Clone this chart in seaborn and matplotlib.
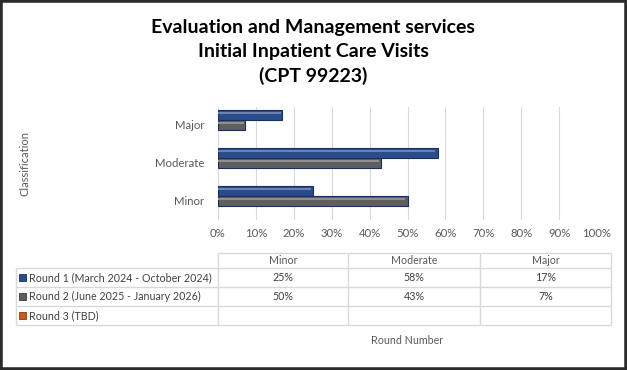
import numpy as np
import pandas as pd
import matplotlib
matplotlib.use("Agg")
import matplotlib.pyplot as plt
from matplotlib.patches import Rectangle
from matplotlib.ticker import PercentFormatter
import seaborn as sns

# ---- data ----
categories = ["Minor", "Moderate", "Major"]
rounds = ["Round 1 (March 2024 - October 2024)",
          "Round 2 (June 2025 - January 2026)",
          "Round 3 (TBD)"]
round1 = [25, 58, 17]
round2 = [50, 43, 7]
round3 = [np.nan, np.nan, np.nan]
x_ticks = [0, 10, 20, 30, 40, 50, 60, 70, 80, 90, 100]
title_lines = ["Evaluation and Management services",
               "Initial Inpatient Care Visits",
               "(CPT 99223)"]

colors = ["#2B4C8C", "#5F5F5F", "#C65A1E"]
edge_colors = ["#1A2F5C", "#3A3A3A", "#8A3C10"]

rows = []
for r, vals in zip(rounds, [round1, round2, round3]):
    for c, v in zip(categories, vals):
        rows.append({"Round": r, "Classification": c, "value": v})
df = pd.DataFrame(rows)

sns.set_theme(style="white")
plt.rcParams["font.family"] = ["Lato", "DejaVu Sans"]

W, H = 627, 370
fig = plt.figure(figsize=(W / 100, H / 100), dpi=100)
fig.patch.set_facecolor("white")

# main axes
x0, x1, y0, y1 = 218, 597, 107, 220
ax = fig.add_axes([x0 / W, 1 - y1 / H, (x1 - x0) / W, (y1 - y0) / H])
sns.barplot(data=df, y="Classification", x="value", hue="Round",
            order=categories[::-1], hue_order=rounds, palette=colors,
            orient="h", width=0.8, legend=False, ax=ax, saturation=1)

# 3D-ish styling of bars
for patch in list(ax.patches):
    fc = patch.get_facecolor()
    hx = matplotlib.colors.to_hex(fc)
    idx = colors.index(hx) if hx in colors else 0
    patch.set_edgecolor(edge_colors[idx])
    patch.set_linewidth(0.8)
    bx, by = patch.get_x(), patch.get_y()
    bw, bh = patch.get_width(), patch.get_height()
    if np.isnan(bw) or bw == 0:
        continue
    light = np.array(matplotlib.colors.to_rgb(fc))
    light = light + (1 - light) * 0.3
    ax.add_patch(Rectangle((bx, by + bh * 0.22), bw * 0.985, bh * 0.22,
                           facecolor=light, edgecolor="none", zorder=patch.get_zorder() + 0.1))

ax.set_xlim(0, 100)
ax.set_ylim(2.5, -0.47)
ax.set_xticks(x_ticks)
ax.xaxis.set_major_formatter(PercentFormatter(decimals=0))
ax.grid(axis="x", color="#D9D9D9", linewidth=0.8)
ax.set_axisbelow(True)
for s in ax.spines.values():
    s.set_visible(False)
ax.tick_params(axis="both", length=0, labelsize=8.2, colors="#595959", pad=6)
ax.tick_params(axis="y", pad=10)
ax.set_xlabel("")
ax.set_ylabel("")

# overlay axes in pixel coords for titles, table, border
ov = fig.add_axes([0, 0, 1, 1], zorder=-1)
ov.set_xlim(0, W)
ov.set_ylim(H, 0)
ov.axis("off")

for i, line in enumerate(title_lines):
    ov.text(313, 27 + i * 24.5, line, ha="center", va="center",
            fontsize=14, fontweight="bold", color="black")

ov.text(25, 163, "Classification", rotation=90, ha="center", va="center",
        fontsize=8, color="#595959")

# table
col_x = [16, 218, 348, 480, 611]
row_y = [253, 268, 287, 306, 325]
gc = "#D9D9D9"
ov.hlines(row_y[0], col_x[1], col_x[-1], color=gc, lw=1)
for y in row_y[1:]:
    ov.hlines(y, col_x[0], col_x[-1], color=gc, lw=1)
ov.vlines(col_x[0], row_y[1], row_y[-1], color=gc, lw=1)
for x in col_x[1:]:
    ov.vlines(x, row_y[0], row_y[-1], color=gc, lw=1)

tc = "#404040"
fs = 7.7
for j, c in enumerate(categories):
    ov.text((col_x[j + 1] + col_x[j + 2]) / 2, (row_y[0] + row_y[1]) / 2, c,
            ha="center", va="center", fontsize=fs, color="#595959")
for i, (r, vals) in enumerate(zip(rounds, [round1, round2, round3])):
    yc = (row_y[i + 1] + row_y[i + 2]) / 2
    ov.add_patch(Rectangle((19, yc - 3.5), 7, 7, facecolor=colors[i],
                           edgecolor=edge_colors[i], lw=0.6))
    ov.text(29, yc, r, ha="left", va="center", fontsize=fs, color=tc)
    for j, v in enumerate(vals):
        if not np.isnan(v):
            ov.text((col_x[j + 1] + col_x[j + 2]) / 2, yc, f"{v:.0f}%",
                    ha="center", va="center", fontsize=fs, color=tc)

ov.text(407, 341, "Round Number", ha="center", va="center", fontsize=fs, color="#595959")

# outer frame
fig.patches.append(Rectangle((0, 0), 1, 1, transform=fig.transFigure,
                             fill=False, edgecolor="#2B2B2B", linewidth=4, zorder=10))

fig.savefig("out.png", dpi=100, facecolor="white")
